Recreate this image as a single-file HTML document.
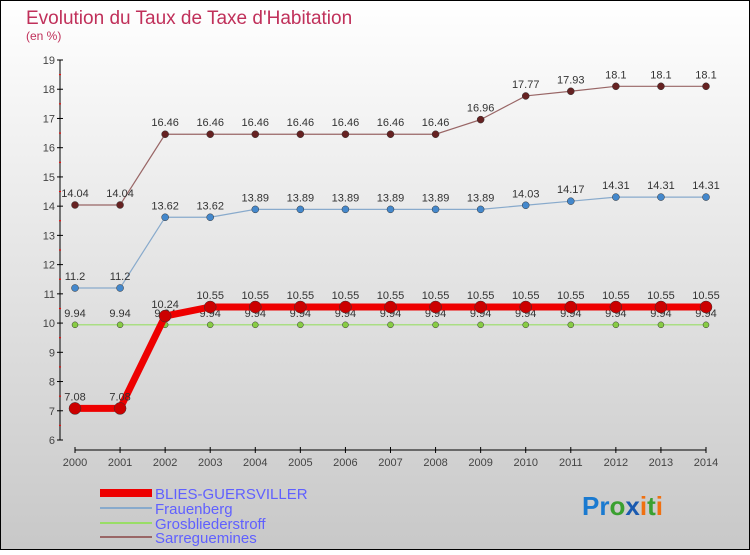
<!DOCTYPE html>
<html><head><meta charset="utf-8"><style>
body{margin:0}
#c{width:750px;height:550px;position:relative;font-family:"Liberation Sans",sans-serif}
</style></head><body>
<div id="c">
<svg id="s" width="750" height="550" xmlns="http://www.w3.org/2000/svg">
<defs><linearGradient id="bg" x1="0" y1="0" x2="0" y2="1"><stop offset="0" stop-color="#ffffff"/><stop offset="1" stop-color="#c8c8c8"/></linearGradient></defs>
<rect x="0.5" y="0.5" width="749" height="549" fill="url(#bg)" stroke="#000"/>
<text x="26" y="24" font-size="19" fill="#c0305a">Evolution du Taux de Taxe d'Habitation</text>
<text x="26" y="40" font-size="12" fill="#c0305a">(en %)</text>
<g id="plot"></g>
<g font-size="15" fill="#6060ff">
<rect x="100" y="489" width="52" height="8" fill="#ee0000"/>
<text x="155" y="499">BLIES-GUERSVILLER</text>
<rect x="100" y="507" width="52" height="2" fill="#88aacc"/>
<text x="155" y="514">Frauenberg</text>
<rect x="100" y="522" width="52" height="2" fill="#99dd66"/>
<text x="155" y="529">Grosbliederstroff</text>
<rect x="100" y="536" width="52" height="2" fill="#996666"/>
<text x="155" y="543">Sarreguemines</text>
</g>
<g font-size="26" font-weight="bold">
<text x="582" y="515"><tspan fill="#1a7ad0">Pr</tspan><tspan fill="#3aa030">o</tspan><tspan fill="#1a5ab0">x</tspan><tspan fill="#f07010">i</tspan><tspan fill="#3aa030">t</tspan><tspan fill="#f07010">i</tspan></text>
</g>
</svg>
</div>
<script>
const years=[2000,2001,2002,2003,2004,2005,2006,2007,2008,2009,2010,2011,2012,2013,2014];
const yTicks=[6,7,8,9,10,11,12,13,14,15,16,17,18,19];
const blies=[7.08,7.08,10.24,10.55,10.55,10.55,10.55,10.55,10.55,10.55,10.55,10.55,10.55,10.55,10.55];
const frauenberg=[11.2,11.2,13.62,13.62,13.89,13.89,13.89,13.89,13.89,13.89,14.03,14.17,14.31,14.31,14.31];
const grosbliederstroff=[9.94,9.94,9.94,9.94,9.94,9.94,9.94,9.94,9.94,9.94,9.94,9.94,9.94,9.94,9.94];
const sarreguemines=[14.04,14.04,16.46,16.46,16.46,16.46,16.46,16.46,16.46,16.96,17.77,17.93,18.1,18.1,18.1];
const NS="http://www.w3.org/2000/svg";
const g=document.getElementById('plot');
function X(i){return 75+i*(706-75)/(years.length-1);}
function Y(v){return 440-(v-6)*(380/13);}
function el(t,a,p){const e=document.createElementNS(NS,t);for(const k in a)e.setAttribute(k,a[k]);(p||g).appendChild(e);return e;}
let ax=el('line',{x1:60,y1:60,x2:60,y2:440,stroke:'#000'});


let bx=el('line',{x1:75,y1:450,x2:706,y2:450,stroke:'#000'});


yTicks.forEach(v=>{
 el('line',{x1:57,y1:Y(v),x2:63,y2:Y(v),stroke:'#000'});
 if(v<19) el('line',{x1:59,y1:Y(v+0.5),x2:61,y2:Y(v+0.5),stroke:'#f00'});
 const t=el('text',{x:55,y:Y(v)+4,'font-size':11,fill:'#444','text-anchor':'end'});t.textContent=v;
 
 
});
years.forEach((yr,i)=>{
 el('line',{x1:X(i),y1:447,x2:X(i),y2:453,stroke:'#000'});
 const t=el('text',{x:X(i),y:466,'font-size':11,fill:'#444','text-anchor':'middle'});t.textContent=yr;
 
 
});
function series(vals,name,color,w,r,dot,labelBelow){
 const grp=el('g',{});
 
 
 el('polyline',{points:vals.map((v,i)=>X(i)+','+Y(v)).join(' '),fill:'none',stroke:color,'stroke-width':w,'stroke-linejoin':'round'},grp);
 vals.forEach((v,i)=>{
  const c=el('circle',{cx:X(i),cy:Y(v),r:r,fill:dot,stroke:'#333','stroke-width':0.5},grp);
  
  
  const t=el('text',{x:X(i),y:Y(v)-8,'font-size':11,fill:'#333','text-anchor':'middle'},grp);t.textContent=v;
  
  
 });
}
series(grosbliederstroff,'grosbliederstroff','#99dd66',1.2,3,'#88cc44');
series(frauenberg,'frauenberg','#88aacc',1.2,3.5,'#4488cc');
series(sarreguemines,'sarreguemines','#996666',1.2,3.5,'#662222');
series(blies,'blies-guersviller','#ee0000',7,6,'#cc0000');
</script>
</body></html>
